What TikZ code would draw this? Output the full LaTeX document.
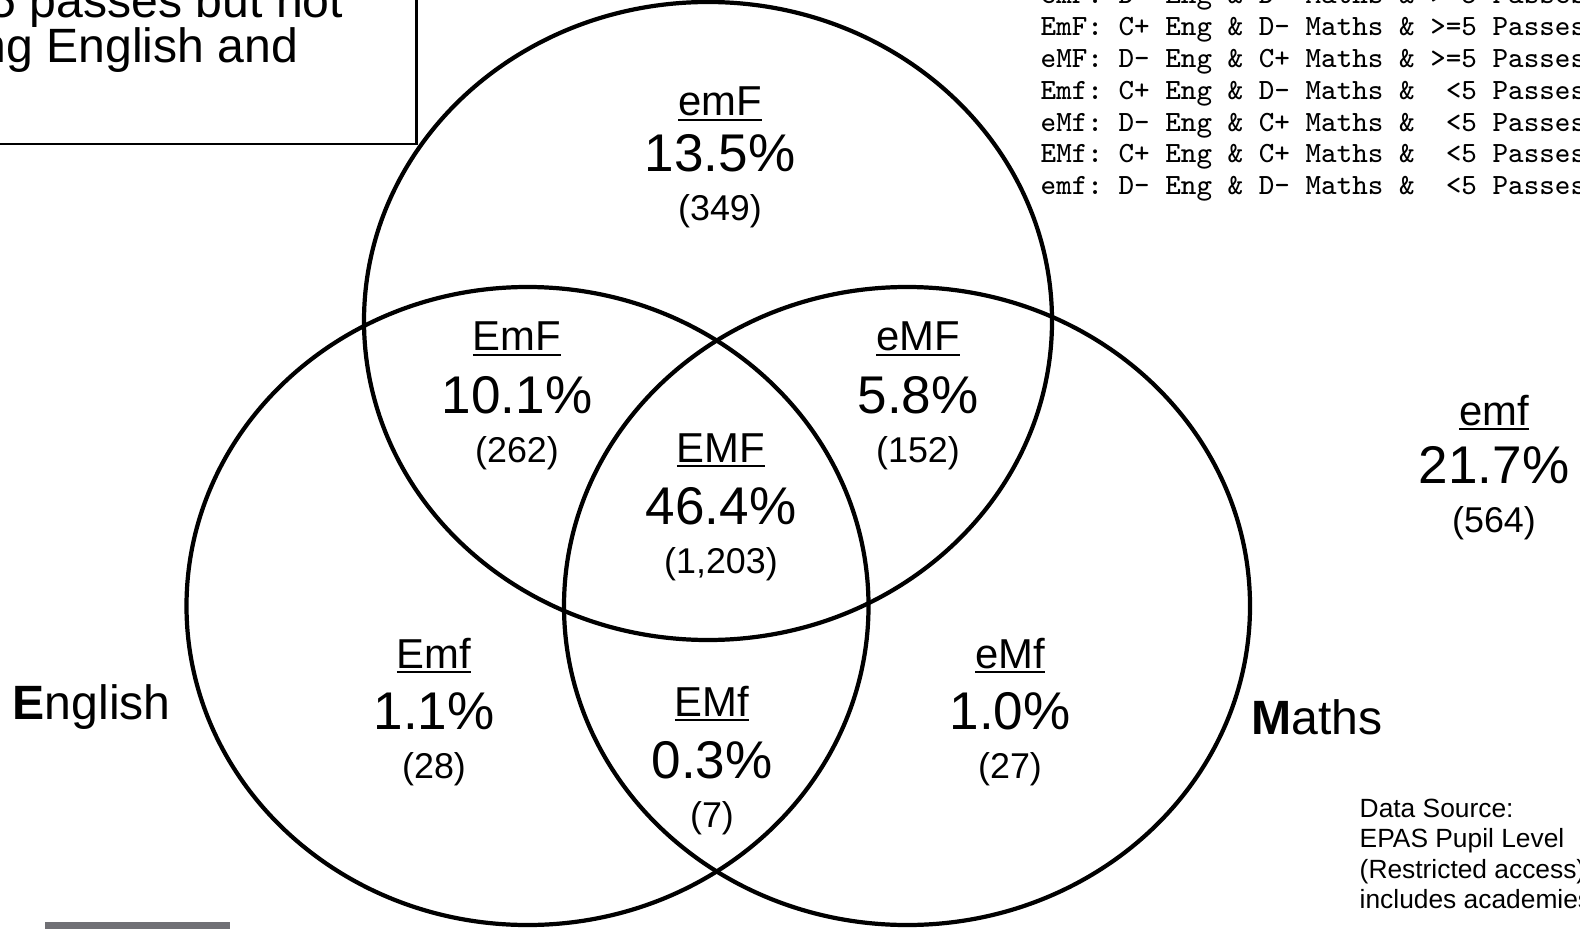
\documentclass[tikz,border=0pt]{standalone}
\usepackage{fontspec}
\setmainfont{Liberation Sans}
\usetikzlibrary{calc}

\definecolor{bargrey}{RGB}{112,112,117}

% underlined region code
\newcommand{\regname}[1]{\setbox0=\hbox{#1}\rlap{\rule[-0.13em]{\wd0}{0.07em}}\box0}
% one region: name, x, baseline of percentage, code, percentage, count, gap to code
\newcommand{\vcell}[7]{%
  \node[pct] (#1) at (#2,#3) {#5};
  \node[lab] (#1-lab) at ($(#1.base)+(0,#7)$) {\regname{#4}};
  \node[cnt] (#1-n) at ($(#1.base)+(0,-0.49)$) {#6};
}

\begin{document}
\begin{tikzpicture}[
  set/.style={line width=1.2pt},
  pct/.style={anchor=base,inner sep=0pt,font=\fontsize{15.1}{18}\selectfont},
  lab/.style={anchor=base,inner sep=0pt,font=\fontsize{11.9}{14}\selectfont},
  cnt/.style={anchor=base,inner sep=0pt,font=\fontsize{10.2}{12}\selectfont},
  side/.style={anchor=base west,inner sep=0pt,font=\fontsize{13.7}{16}\selectfont},
  keyline/.style={anchor=base west,inner sep=0pt,font=\ttfamily\frenchspacing\fontsize{8.35}{10}\selectfont},
  src/.style={anchor=base west,inner sep=0pt,font=\fontsize{7.5}{9}\selectfont}]
  \useasboundingbox (0,0) rectangle (15.80,9.29);
  \clip (0,0) rectangle (15.80,9.29);

  % the three sets
  \coordinate (Fc) at (7.08,6.08);
  \coordinate (Ec) at (5.275,3.23);
  \coordinate (Mc) at (9.07,3.23);
  \draw[set] (Fc) ellipse [x radius=3.44, y radius=3.19];
  \draw[set] (Ec) ellipse [x radius=3.41, y radius=3.19];
  \draw[set] (Mc) ellipse [x radius=3.43, y radius=3.19];

  % regions
  \vcell{emF}{7.20}{7.57}{emF}{13.5\%}{(349)}{0.56}
  \vcell{EmF}{5.17}{5.16}{EmF}{10.1\%}{(262)}{0.62}
  \vcell{eMF}{9.18}{5.16}{eMF}{5.8\%}{(152)}{0.62}
  \vcell{EMF}{7.21}{4.05}{EMF}{46.4\%}{(1,203)}{0.62}
  \vcell{Emf}{4.34}{2.00}{Emf}{1.1\%}{(28)}{0.61}
  \vcell{EMf}{7.12}{1.51}{EMf}{0.3\%}{(7)}{0.62}
  \vcell{eMf}{10.10}{2.00}{eMf}{1.0\%}{(27)}{0.61}
  \vcell{emf}{14.94}{4.46}{emf}{21.7\%}{(564)}{0.58}

  % set names
  \node[side] (eng) at (0.12,2.10) {\textbf{E}nglish};
  \node[side] (mat) at (12.51,1.95) {\textbf{M}aths};

  % title box
  \draw[line width=0.85pt] (-0.10,9.50) rectangle (4.16,7.85);
  \node[side] (title1) at (-0.11,9.11) {5 passes but not};
  \node[side] (title2) at (-0.21,8.66) {ng English and};

  % key
  \foreach \txt [count=\i] in {emF: D- Eng \& D- Maths \& >=5 Passes,
      EmF: C+ Eng \& D- Maths \& >=5 Passes,
      eMF: D- Eng \& C+ Maths \& >=5 Passes,
      Emf: C+ Eng \& D- Maths \&~~<5 Passes,
      eMf: D- Eng \& C+ Maths \&~~<5 Passes,
      EMf: C+ Eng \& C+ Maths \&~~<5 Passes,
      emf: D- Eng \& D- Maths \&~~<5 Passes}
    \node[keyline] (key\i) at (10.40,{9.25-0.318*(\i-1)}) {\txt};

  % source note
  \foreach \txt [count=\i] in {Data Source:, EPAS Pupil Level,
      (Restricted access), includes academies}
    \node[src] (src\i) at (13.59,{1.12-0.305*(\i-1)}) {\txt};

  \fill[bargrey] (0.45,0) rectangle (2.30,0.07);
\end{tikzpicture}
\end{document}
